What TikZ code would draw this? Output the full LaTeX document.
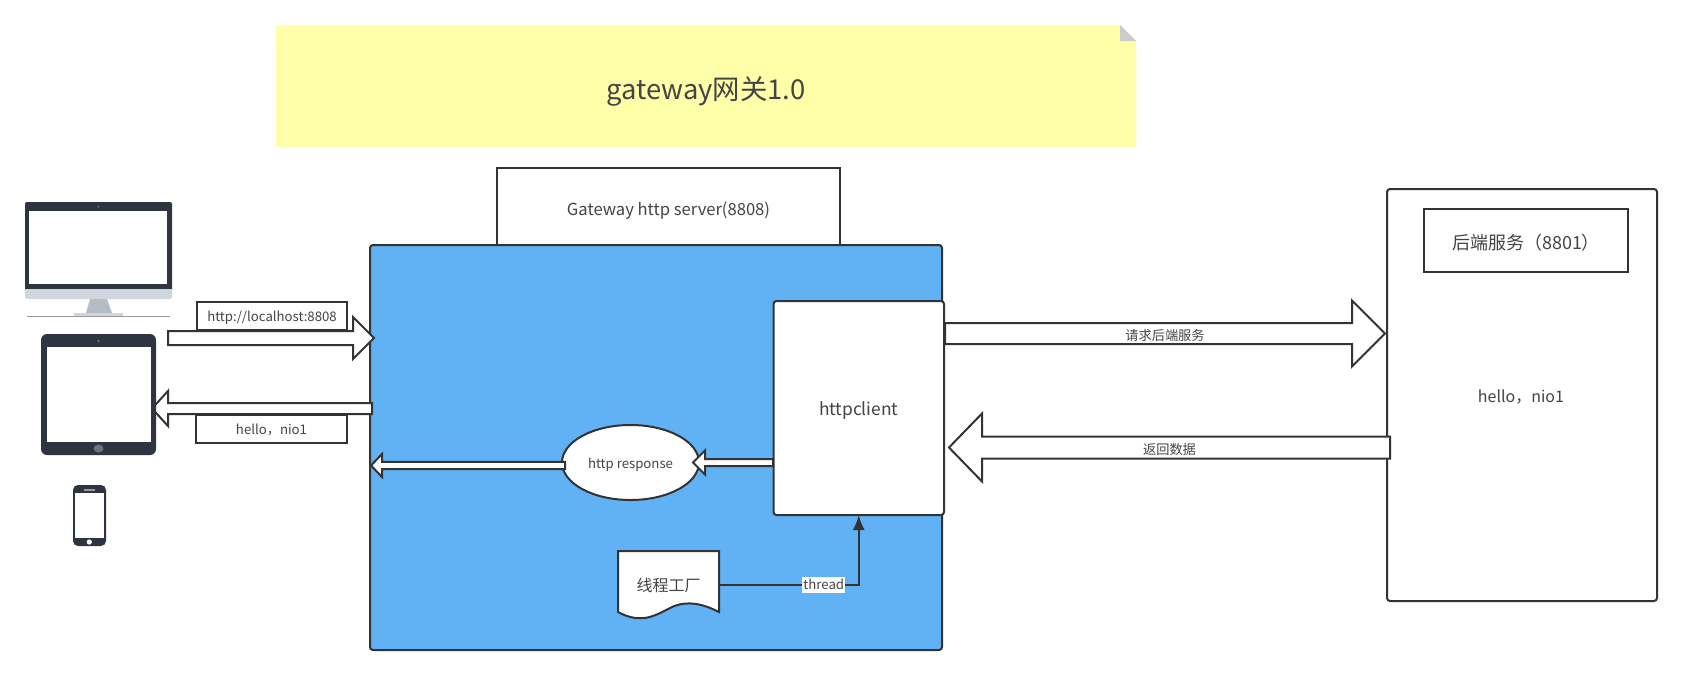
\documentclass[tikz,border=0pt]{standalone}
\usepackage{fontspec}
\setmainfont{Noto Sans CJK SC}
\usetikzlibrary{arrows.meta,calc,shapes.geometric}

\definecolor{inkline}{HTML}{333333}
\definecolor{inktext}{HTML}{444444}
\definecolor{noteyellow}{HTML}{FFFFAA}
\definecolor{gatewayblue}{HTML}{61B1F5}
\definecolor{devicedark}{HTML}{2F3540}
\definecolor{devicelight}{HTML}{CFD6DF}
\definecolor{devicestand}{HTML}{B4BDC4}

\tikzset{
  every node/.style={outer sep=0pt,inner sep=0pt,text=inktext},
  small/.style={font=\fontsize{13.2}{15}\selectfont,text height=13pt,text depth=2pt},
  box/.style={draw=inkline,line width=2pt,fill=white},
  roundbox/.style={box,rounded corners=3pt},
  blockline/.style={draw=inkline,line width=2pt,fill=white,miter limit=10}
}

% tail, tip, half shaft, half head, head length (negative when pointing left)
\newcommand{\blockarrow}[5]{
  \draw[blockline] let \p1=(#1), \p2=(#2) in
    ({\x1},{\y1+#3pt}) -- ({\x2-(#5pt)},{\y1+#3pt}) -- ({\x2-(#5pt)},{\y1+#4pt}) -- (#2)
    -- ({\x2-(#5pt)},{\y1-#4pt}) -- ({\x2-(#5pt)},{\y1-#3pt}) -- ({\x1},{\y1-#3pt}) -- cycle;
}

\begin{document}
\begin{tikzpicture}[x=1pt,y=-1pt]
  \useasboundingbox (0,0) rectangle (1682,675);

  % note
  \fill[noteyellow] (276,25) -- (1120,25) -- (1136,41) -- (1136,147) -- (276,147) -- cycle;
  \fill[black!20] (1120,25) -- (1136,41) -- (1120,41) -- cycle;
  \node[font=\fontsize{27.4}{30}\selectfont] (title) at (706,91) {gateway网关1.0};

  % gateway
  \node[box,font=\fontsize{16.6}{18}\selectfont,text height=17pt,text depth=4pt,minimum width=343pt,minimum height=82pt] (server) at (668.5,209) {Gateway http server(8808)};
  \node[roundbox,fill=gatewayblue,minimum width=572pt,minimum height=405pt] (gateway) at (656,447.5) {};
  \node[roundbox,font=\fontsize{17.4}{20}\selectfont,text height=19.5pt,text depth=4pt,minimum width=170.5pt,minimum height=214pt] (httpclient) at (858.75,408) {httpclient};
  \node[box,small,ellipse,minimum width=137pt,minimum height=75pt] (response) at (630.5,462.5) {http response};

  % thread factory
  \node[minimum width=101pt,minimum height=68pt] (factory) at (668.5,585) {};
  \draw[box] (factory.north west) -- (factory.north east) -- (719,612)
    .. controls (703,604) and (688,600) .. (672,607)
    .. controls (656,615) and (642,625) .. (618,612) -- cycle;
  \node[font=\fontsize{16}{18}\selectfont] (factorytext) at (factory.center) {线程工厂};
  \draw[draw=inkline,line width=2pt,-{Latex[length=15pt,width=12pt]}] (factory.east) -| node[pos=.375,font=\fontsize{13.2}{15}\selectfont,fill=white,text height=11pt,text depth=3pt,inner xsep=1pt,inner ysep=1pt] (thread) {thread} (httpclient.south);

  % backend
  \node[roundbox,minimum width=270pt,minimum height=412pt] (backend) at (1522,395) {};
  \node[font=\fontsize{16}{18}\selectfont] (backendtext) at (1521,397) {hello，nio1};
  \node[box,font=\fontsize{18}{20}\selectfont,text height=21.5pt,text depth=3.5pt,minimum width=204pt,minimum height=63pt] (backendname) at (1526,240.5) {后端服务（8801）};

  % block arrows
  \coordinate (sendtail) at (168,338);
  \coordinate (sendtip) at (374,338);
  \blockarrow{sendtail}{sendtip}{7}{21}{21}
  \coordinate (hellotail) at (372,408.5);
  \coordinate (hellotip) at (152,408.5);
  \blockarrow{hellotail}{hellotip}{5.5}{17.5}{-16}
  \coordinate (reqtail) at (945,333.5);
  \coordinate (reqtip) at (1385,333.5);
  \blockarrow{reqtail}{reqtip}{10.5}{33}{33}
  \coordinate (rettail) at (1390,447.5);
  \coordinate (rettip) at (949,447.5);
  \blockarrow{rettail}{rettip}{11}{34}{-33}
  \coordinate (resptail) at (565,465.5);
  \coordinate (resptip) at (371,465.5);
  \blockarrow{resptail}{resptip}{3.7}{11.5}{-11}
  \coordinate (clitail) at (773,462.5);
  \coordinate (clitip) at (693,462.5);
  \blockarrow{clitail}{clitip}{3.5}{12}{-12}

  \node[small,yshift=-1.5pt] (reqtext) at ($(reqtail)!.5!(reqtip)$) {请求后端服务};
  \node[small,yshift=-1.5pt] (rettext) at ($(rettail)!.5!(rettip)$) {返回数据};
  \node[box,small,minimum width=150pt,minimum height=28pt] (urlbox) at (272,316) {http://localhost:8808};
  \node[box,small,minimum width=151pt,minimum height=28pt] (hellobox) at (271.5,429) {hello，nio1};

  % monitor
  \fill[devicedark,rounded corners=2pt] (25,202) rectangle (172,292);
  \fill[devicelight,rounded corners=2pt] (25,288) rectangle (172,299);
  \fill[devicedark] (25,287) rectangle (172,288.5);
  \fill[white] (29,211) rectangle (167,284);
  \fill[devicedark!70] (98.5,206.5) circle (1pt);
  \fill[devicestand] (90,299) -- (107,299) -- (112,313) -- (86,313) -- cycle;
  \fill[devicelight] (74,313) rectangle (123,316);
  \draw[black!40,line width=.8pt] (27,316.3) -- (170,316.3);

  % tablet
  \fill[devicedark,rounded corners=6pt] (41,334) rectangle (156,455);
  \fill[white] (47,347) rectangle (151,442);
  \fill[devicedark!70] (98.5,341) circle (1.3pt);
  \fill[devicedark!70] (98.5,448.5) ellipse (5pt and 4pt);

  % phone
  \fill[devicedark,rounded corners=5pt] (73,485) rectangle (106,546);
  \fill[white] (75,493) rectangle (104,538);
  \fill[black!40] (84,489.2) rectangle (95,490.8);
  \fill[white] (89.3,542) circle (2.6pt);
\end{tikzpicture}
\end{document}
